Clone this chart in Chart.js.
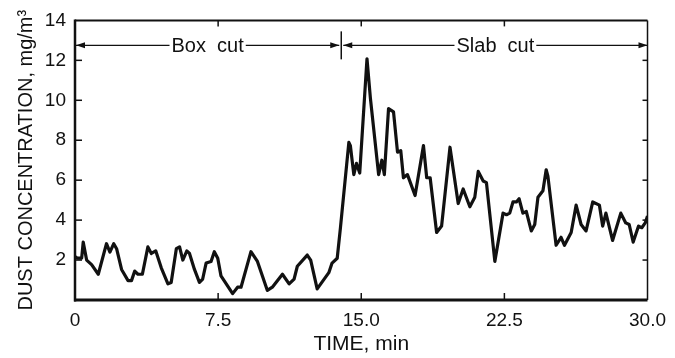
<!DOCTYPE html>
<html>
<head>
<meta charset="utf-8">
<script src="https://cdn.jsdelivr.net/npm/chart.js@4.4.1/dist/chart.umd.min.js"></script>
<style>
  html, body { margin: 0; padding: 0; background: #fff; }
  #wrap { width: 675px; height: 358px; }
</style>
</head>
<body>
<div id="wrap"><canvas id="dustChart"></canvas></div>
<script>
// time (min) and dust concentration (mg/m3)
var times = [0.00, 0.12, 0.35, 0.43, 0.61, 0.87, 1.22, 1.65, 1.83, 2.03, 2.18, 2.44, 2.78, 2.96,
  3.13, 3.30, 3.53, 3.82, 4.00, 4.23, 4.52, 4.87, 5.04, 5.31, 5.48, 5.65, 5.86, 6.00, 6.26, 6.52,
  6.69, 6.87, 7.13, 7.30, 7.48, 7.65, 8.26, 8.52, 8.70, 9.22, 9.56, 10.08, 10.34, 10.87, 11.22,
  11.48, 11.65, 12.17, 12.35, 12.69, 13.30, 13.47, 13.74, 13.91, 14.35, 14.43, 14.61, 14.75, 14.92,
  15.30, 15.48, 15.91, 16.08, 16.21, 16.43, 16.69, 16.90, 17.07, 17.21, 17.42, 17.82, 18.26, 18.43,
  18.61, 18.95, 19.21, 19.65, 20.08, 20.34, 20.69, 20.95, 21.13, 21.39, 21.56, 22.00, 22.43, 22.61,
  22.78, 22.95, 23.13, 23.27, 23.47, 23.65, 23.91, 24.09, 24.26, 24.52, 24.69, 24.78, 25.21, 25.47,
  25.65, 26.00, 26.26, 26.52, 26.78, 27.13, 27.48, 27.65, 27.82, 28.17, 28.60, 28.86, 29.04, 29.25,
  29.53, 29.70, 29.88, 30.00];
var dust = [2.17, 2.1, 2.1, 2.9, 2.0, 1.77, 1.29, 2.82, 2.4, 2.82, 2.57, 1.53, 0.97, 0.97,
  1.45, 1.29, 1.29, 2.66, 2.33, 2.46, 1.61, 0.81, 0.88, 2.57, 2.66, 2.0, 2.46, 2.33, 1.53, 0.88,
  1.05, 1.85, 1.93, 2.42, 2.09, 1.21, 0.32, 0.64, 0.64, 2.42, 1.93, 0.48, 0.64, 1.29, 0.81,
  1.05, 1.69, 2.25, 2.0, 0.56, 1.37, 1.85, 2.09, 3.62, 7.89, 7.73, 6.28, 6.84, 6.36,
  12.08, 10.1, 6.28, 7.0, 6.28, 9.58, 9.42, 7.4, 7.48, 6.12, 6.28, 5.23, 7.73, 6.12,
  6.12, 3.38, 3.7, 7.65, 4.83, 5.56, 4.67, 5.15, 6.44, 5.96, 5.88, 1.93, 4.35, 4.27,
  4.35, 4.91, 4.91, 5.07, 4.35, 4.43, 3.46, 3.78, 5.15, 5.47, 6.52, 6.2, 2.74, 3.14,
  2.74, 3.38, 4.75, 3.78, 3.46, 4.91, 4.75, 3.7, 4.35, 2.98, 4.35, 3.86, 3.78, 2.9,
  3.7, 3.62, 3.86, 4.2];

var xTickValues = [0, 7.5, 15, 22.5, 30];
var xTickLabels = ['0', '7.5', '15.0', '22.5', '30.0'];
var yTickLabels = ['', '2', '4', '6', '8', '10', '12', '14'];

var phaseNames = ['Box  cut', 'Slab  cut'];
var phaseChange = 13.9;   // min, where the slab cut starts
var arrowLevel = 12.75;   // mg/m3, height of the phase arrows

var FONT = '"Liberation Sans", Arial, Helvetica, sans-serif';

function arrowHead(ctx, x, y, dir) {
  ctx.beginPath();
  ctx.moveTo(x, y);
  ctx.lineTo(x - dir * 9, y - 3);
  ctx.lineTo(x - dir * 9, y + 3);
  ctx.closePath();
  ctx.fill();
}

// frame, inward ticks and the Box cut / Slab cut arrows
var framePlugin = {
  id: 'frame',
  afterDraw: function(chart) {
    var ctx = chart.ctx, a = chart.chartArea;
    var xs = chart.scales.x, ys = chart.scales.y;
    ctx.save();
    ctx.strokeStyle = '#111';
    ctx.fillStyle = '#111';
    ctx.lineCap = 'butt';

    // axes box
    ctx.lineWidth = 2.5;
    ctx.beginPath(); ctx.moveTo(a.left, a.top - 1); ctx.lineTo(a.left, a.bottom + 1.5); ctx.stroke();
    ctx.lineWidth = 3;
    ctx.beginPath(); ctx.moveTo(a.left - 1, a.bottom); ctx.lineTo(a.right, a.bottom); ctx.stroke();
    ctx.lineWidth = 2;
    ctx.beginPath(); ctx.moveTo(a.left, a.top); ctx.lineTo(a.right, a.top); ctx.stroke();
    ctx.lineWidth = 1.5;
    ctx.beginPath(); ctx.moveTo(a.right, a.top); ctx.lineTo(a.right, a.bottom); ctx.stroke();

    // inward ticks
    ctx.lineWidth = 1.5;
    ys.ticks.forEach(function(t) {
      if (t.value <= 0 || t.value >= 14) return;
      var y = ys.getPixelForValue(t.value);
      ctx.beginPath(); ctx.moveTo(a.left, y); ctx.lineTo(a.left + 7, y); ctx.stroke();
      ctx.beginPath(); ctx.moveTo(a.right, y); ctx.lineTo(a.right - 5, y); ctx.stroke();
    });
    xs.ticks.forEach(function(t) {
      if (t.value <= 0 || t.value >= 30) return;
      var x = xs.getPixelForValue(t.value);
      ctx.beginPath(); ctx.moveTo(x, a.bottom); ctx.lineTo(x, a.bottom - 7); ctx.stroke();
      ctx.beginPath(); ctx.moveTo(x, a.top); ctx.lineTo(x, a.top + 6); ctx.stroke();
    });

    // phase arrows
    var y = ys.getPixelForValue(arrowLevel);
    var xb = xs.getPixelForValue(phaseChange);
    var spans = [[a.left + 1, xb - 1], [xb + 3, a.right]];
    ctx.font = '20px ' + FONT;
    ctx.textAlign = 'center';
    ctx.textBaseline = 'middle';
    ctx.lineWidth = 1.2;
    spans.forEach(function(s, i) {
      var cx = (s[0] + s[1]) / 2;
      var w = ctx.measureText(phaseNames[i]).width;
      ctx.fillText(phaseNames[i], cx, y + 1);
      ctx.beginPath();
      ctx.moveTo(s[0], y); ctx.lineTo(cx - w / 2 - 2, y);
      ctx.moveTo(cx + w / 2 + 2, y); ctx.lineTo(s[1], y);
      ctx.stroke();
      arrowHead(ctx, s[0], y, -1);
      arrowHead(ctx, s[1], y, 1);
    });
    ctx.lineWidth = 1.5;
    ctx.beginPath(); ctx.moveTo(xb + 1, y - 14); ctx.lineTo(xb + 1, y + 14); ctx.stroke();
    ctx.restore();
  }
};

var ctx = document.getElementById('dustChart').getContext('2d');
var dustChart = new Chart(ctx, {
  type: 'line',
  data: {
    datasets: [{
      data: times.map(function(t, i) { return { x: t, y: dust[i] }; }),
      borderColor: '#111',
      borderWidth: 3.2,
      borderJoinStyle: 'round',
      pointRadius: 0,
      tension: 0,
      fill: false
    }]
  },
  options: {
    responsive: true,
    maintainAspectRatio: false,
    animation: false,
    devicePixelRatio: 1,
    layout: { padding: { top: 10, right: 25, left: 0, bottom: 0 } },
    plugins: { legend: { display: false }, tooltip: { enabled: false } },
    scales: {
      x: {
        type: 'linear',
        min: 0,
        max: 30,
        grid: { display: false, drawTicks: false },
        border: { display: false },
        afterBuildTicks: function(scale) {
          scale.ticks = xTickValues.map(function(v) { return { value: v }; });
        },
        afterFit: function(scale) { scale.height = 58; },
        ticks: {
          padding: 9,
          maxRotation: 0,
          color: '#111',
          font: { family: FONT, size: 19 },
          callback: function(v, i) { return xTickLabels[i]; }
        },
        title: {
          display: true,
          text: 'TIME, min',
          color: '#111',
          font: { family: FONT, size: 21 },
          padding: { top: 0, bottom: 1 }
        }
      },
      y: {
        min: 0,
        max: 14,
        grid: { display: false, drawTicks: false },
        border: { display: false },
        afterFit: function(scale) { scale.width = 75; },
        ticks: {
          stepSize: 2,
          padding: 9,
          color: '#111',
          font: { family: FONT, size: 19 },
          callback: function(v, i) { return yTickLabels[i]; }
        },
        title: {
          display: true,
          text: 'DUST CONCENTRATION, mg/m\u00b3',
          color: '#111',
          font: { family: FONT, size: 20 },
          padding: { top: 14, bottom: 0 }
        }
      }
    }
  },
  plugins: [framePlugin]
});
</script>
</body>
</html>
